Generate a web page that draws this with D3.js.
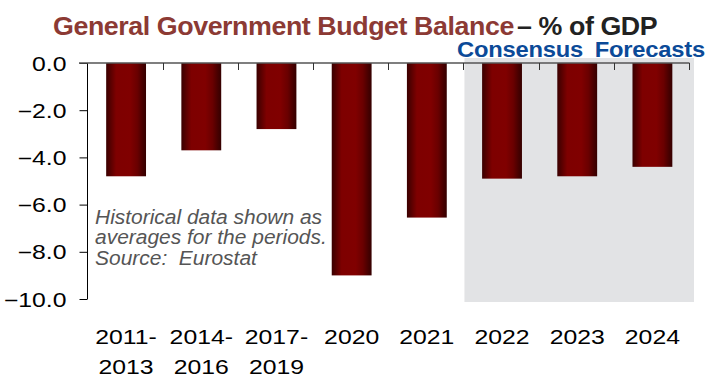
<!DOCTYPE html>
<html>
<head>
<meta charset="utf-8">
<script src="https://cdn.jsdelivr.net/npm/d3@7/dist/d3.min.js"></script>
<style>
  html, body { margin: 0; padding: 0; background: #fff; }
  svg { display: block; font-family: "Liberation Sans", Arial, Helvetica, sans-serif; }
  text { white-space: pre; }
</style>
</head>
<body>
<svg id="chart" width="708" height="378"></svg>
<script>
// Periods on the category axis (label lines) and budget balance, % of GDP
const categories = ["2011-2013", "2014-2016", "2017-2019", "2020", "2021", "2022", "2023", "2024"];
const categoryLines = [["2011-", "2013"], ["2014-", "2016"], ["2017-", "2019"], ["2020"], ["2021"], ["2022"], ["2023"], ["2024"]];
const balance = [-4.8, -3.7, -2.8, -9.0, -6.55, -4.9, -4.8, -4.4];
const forecastCategories = ["2022", "2023", "2024"];
const yTicks = [0, -2, -4, -6, -8, -10];
const noteLines = ["Historical data shown as", "averages for the periods.", "Source:  Eurostat"];

const svg = d3.select("#chart");

const x = d3.scaleBand().domain(categories).range([87.5, 689]).padding(0);
const y = d3.scaleLinear().domain([-10, 0]).range([299, 63]);

// Widen a text horizontally around its own anchor x
function stretch(sel, sx) {
  sel.each(function () {
    const ax = +this.getAttribute("x") || 0;
    d3.select(this).attr("transform", `translate(${ax * (1 - sx)},0) scale(${sx},1)`);
  });
}
// Widen a left-anchored text so that it spans a given width
function fitWidth(sel, width) {
  const node = sel.node();
  const b = node.getBBox();
  const ax = +node.getAttribute("x");
  stretch(sel, width / (b.x + b.width - ax));
}

// Bar fill: dark edges, bright maroon body
const defs = svg.append("defs");
const grad = defs.append("linearGradient").attr("id", "barGrad")
  .attr("x1", "0%").attr("x2", "100%").attr("y1", "0%").attr("y2", "0%");
[[0, "#3a0000"], [0.1, "#550000"], [0.25, "#7e0000"], [0.6, "#800000"], [0.78, "#6a0000"], [0.92, "#460000"], [1, "#350000"]]
  .forEach(([o, c]) => grad.append("stop").attr("offset", o).attr("stop-color", c));

// Shaded forecast region
const fFirst = x(forecastCategories[0]);
const fLast = x(forecastCategories[forecastCategories.length - 1]) + x.bandwidth();
svg.append("rect")
  .attr("x", fFirst + 1).attr("y", 58)
  .attr("width", fLast - fFirst + 4).attr("height", 302 - 58)
  .attr("fill", "#e2e3e5");

// Bars
const barFrac = 0.53;
svg.append("g").selectAll("rect")
  .data(categories.map((c, i) => ({ c, v: balance[i] })))
  .join("rect")
  .attr("x", d => x(d.c) + x.bandwidth() * (1 - barFrac) / 2 + 1)
  .attr("y", y(0))
  .attr("width", x.bandwidth() * barFrac)
  .attr("height", d => y(d.v) - y(0))
  .attr("fill", "url(#barGrad)");

// Y axis
const yAxis = d3.axisLeft(y).tickValues(yTicks).tickFormat(d3.format(".1f")).tickSize(8).tickPadding(13);
const gy = svg.append("g").attr("transform", "translate(87.5,0)").call(yAxis);
gy.select(".domain").attr("stroke", "#000").attr("d", `M0,${y(0)}V${y(-10)}`);
gy.selectAll(".tick line").attr("stroke", "#000");
gy.selectAll(".tick text").attr("font-size", 19.5).attr("fill", "#000").attr("dy", "0.36em");
stretch(gy.selectAll(".tick text"), 1.27);

// Zero line with category ticks
const gx = svg.append("g").attr("transform", `translate(0,${y(0)})`);
gx.append("line").attr("x1", 79).attr("x2", 689.5).attr("y1", 0).attr("y2", 0)
  .attr("stroke", "#555").attr("stroke-width", 1.5);
gx.selectAll("line.tk")
  .data(categories.slice(1).map(c => x(c)).concat([x.range()[1]]))
  .join("line").attr("class", "tk")
  .attr("x1", d => Math.round(d) + 0.5).attr("x2", d => Math.round(d) + 0.5)
  .attr("y1", 0).attr("y2", 7)
  .attr("stroke", "#333").attr("stroke-width", 1);

// Category labels
const lbl = svg.append("g").attr("font-size", 21).attr("fill", "#000").attr("text-anchor", "middle");
categories.forEach((c, i) => {
  const cx = x(c) + x.bandwidth() / 2 + 1;
  const t = lbl.append("text").attr("x", cx).attr("y", 344.5);
  categoryLines[i].forEach((line, j) => {
    t.append("tspan").attr("x", cx).attr("dy", j === 0 ? 0 : 29.5).text(line);
  });
});
stretch(lbl.selectAll("text"), 1.18);

// Note
const note = svg.append("text").attr("x", 95).attr("y", 224)
  .attr("font-size", 19.5).attr("font-style", "italic").attr("fill", "#555");
noteLines.forEach((line, j) => {
  note.append("tspan").attr("x", 95).attr("dy", j === 0 ? 0 : 20.5).text(line);
});
stretch(note, 1.075);

// Title
const title = svg.append("text").attr("x", 53).attr("y", 35)
  .attr("font-size", 25.5).attr("font-weight", "bold").attr("letter-spacing", -0.4);
title.append("tspan").attr("fill", "#8c3a34").text("General Government Budget Balance");
title.append("tspan").attr("fill", "#222").attr("dx", 3).text("– % of GDP");
fitWidth(title, 605);

// Forecast heading
const sub = svg.append("text").attr("x", 457).attr("y", 57.5)
  .attr("font-size", 22.5).attr("font-weight", "bold").attr("fill", "#0b4a98")
  .attr("letter-spacing", -0.2);
sub.append("tspan").text("Consensus");
sub.append("tspan").attr("dx", 11).text("Forecasts");
fitWidth(sub, 248);
</script>
</body>
</html>
